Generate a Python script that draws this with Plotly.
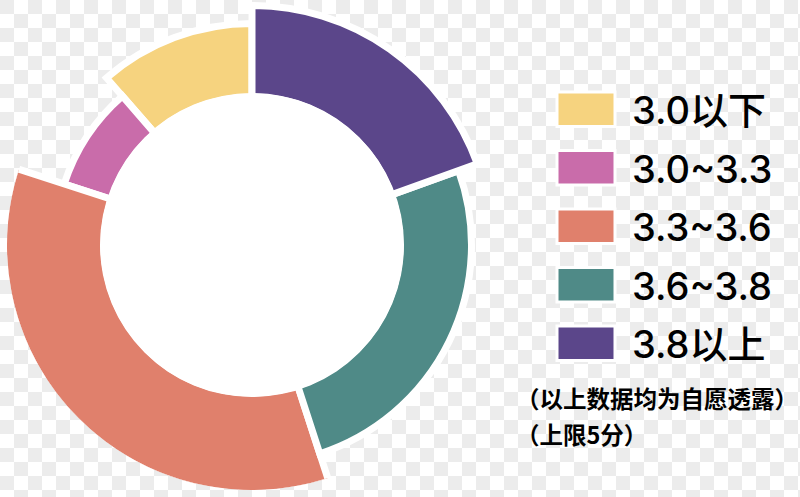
import plotly.graph_objects as go

# ---- data ----
categories = ["3.0以下", "3.0~3.3", "3.3~3.6", "3.6~3.8", "3.8以上"]
shares = [11.4, 8.6, 35.0, 25.5, 19.5]          # percent of ring
ring_outer = [218, 194, 245, 216, 236]           # outer radius of each segment
colors = ["#F6D37F", "#C96CAA", "#E0806C", "#4F8A87", "#5B468A"]
note_lines = ["（以上数据均为自愿透露）", "（上限5分）"]

W, H = 800, 497
CX, CY = 252, 245          # ring centre in px (from top-left)
INNER = 152
LW = 7

# transparent-style checkerboard background as one path shape (paper coords)
SQ = 14
parts = []
for row in range((H + SQ - 1) // SQ):
    for col in range((W + SQ - 1) // SQ):
        if (row + col) % 2 == 0:
            x0, x1 = col * SQ / W, min((col + 1) * SQ, W) / W
            y0, y1 = 1 - row * SQ / H, 1 - min((row + 1) * SQ, H) / H
            parts.append(f"M{x0:.5f},{y0:.5f}L{x1:.5f},{y0:.5f}L{x1:.5f},{y1:.5f}L{x0:.5f},{y1:.5f}Z")
checker = dict(type="path", xref="paper", yref="paper", path="".join(parts),
               fillcolor="#ececec", line=dict(width=0), layer="below")

total = sum(shares)
widths = [s / total * 360 for s in shares]
thetas = []
acc = 0
for w in widths:
    thetas.append(acc + w / 2)
    acc += w

fig = go.Figure()
fig.add_trace(go.Barpolar(
    r=[r + LW / 2 - (INNER - 4) for r in ring_outer],
    base=INNER - 4,
    theta=thetas,
    width=widths,
    marker=dict(color=colors, line=dict(color="white", width=LW)),
    hoverinfo="skip",
))
# white inner disc
fig.add_trace(go.Barpolar(
    r=[INNER], base=0, theta=[0], width=[360],
    marker=dict(color="white", line=dict(width=0)),
    hoverinfo="skip",
))

R = 245
fig.update_layout(
    width=W, height=H,
    margin=dict(l=0, r=0, t=0, b=0),
    paper_bgcolor="white",
    plot_bgcolor="rgba(0,0,0,0)",
    showlegend=False,
    polar=dict(
        domain=dict(x=[(CX - R) / W, (CX + R) / W],
                    y=[(H - CY - R) / H, (H - CY + R) / H]),
        bgcolor="rgba(0,0,0,0)",
        bargap=0,
        radialaxis=dict(range=[0, R], visible=False),
        angularaxis=dict(visible=False, rotation=90, direction="counterclockwise"),
    ),
)

# manual legend
top0, pitch, bh = 92, 58.5, 34.5
shapes, annots = [checker], []
for i, (cat, col) in enumerate(zip(categories, colors)):
    y0 = top0 + i * pitch
    shapes.append(dict(type="rect", xref="paper", yref="paper",
                       x0=557 / W, x1=615 / W, y0=1 - y0 / H, y1=1 - (y0 + bh) / H,
                       fillcolor=col, line=dict(color="white", width=3)))
    annots.append(dict(text=cat, xref="paper", yref="paper", x=630 / W,
                       y=1 - (y0 + bh / 2 + 1) / H, xanchor="left", yanchor="middle",
                       showarrow=False,
                       font=dict(size=38, color="black", weight=500,
                                 family="Inter, Noto Sans CJK SC")))
for j, line in enumerate(note_lines):
    annots.append(dict(text=f"<b>{line}</b>", xref="paper", yref="paper",
                       x=514 / W, y=1 - (398 + j * 36) / H,
                       xanchor="left", yanchor="middle", showarrow=False,
                       font=dict(size=23.5, color="black",
                                 family="Noto Sans CJK SC")))
fig.update_layout(shapes=shapes, annotations=annots)

fig.write_html(
    "out.html",
    config={"displayModeBar": False},
    post_script="document.body.style.margin='0';document.body.style.overflow='hidden';",
)
